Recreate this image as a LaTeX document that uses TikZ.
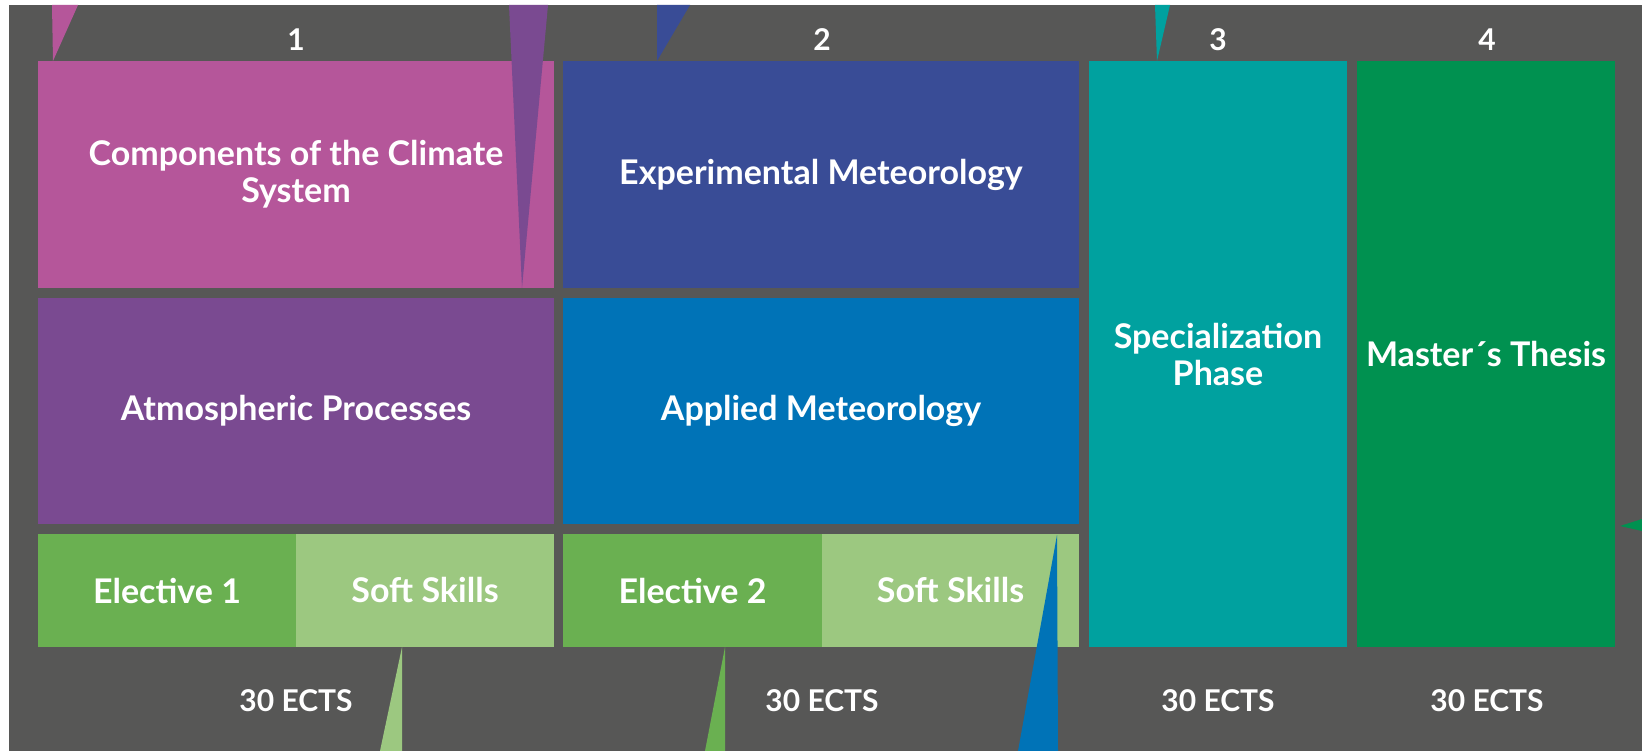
\documentclass[tikz,border=0pt]{standalone}
\usepackage{fontspec}
\setmainfont{Lato}
\definecolor{bgc}{HTML}{575756}
\definecolor{pinkc}{HTML}{B5569A}
\definecolor{purplec}{HTML}{7A4A91}
\definecolor{navyc}{HTML}{394C96}
\definecolor{bluec}{HTML}{0073B7}
\definecolor{greenc}{HTML}{6AB051}
\definecolor{lgreenc}{HTML}{9CC880}
\definecolor{tealc}{HTML}{00A19F}
\definecolor{mgreenc}{HTML}{009150}
\tikzset{
  box/.style={draw=none, inner sep=0pt, text=white, align=center,
    font=\fontsize{34}{37}\selectfont\bfseries},
  lbl/.style={inner sep=0pt, text=white, font=\fontsize{30}{34}\selectfont\bfseries}
}
\begin{document}
\begin{tikzpicture}[x=1pt,y=-1pt]
\useasboundingbox (0,0) rectangle (1642,751);
\fill[white] (0,0) rectangle (1642,751);
\fill[bgc] (9,5) rectangle (1642,751);
% top triangles (behind boxes)
\fill[pinkc] (52,5) -- (78,5) -- (53,61) -- cycle;
\fill[navyc] (657,5) -- (690,5) -- (657,61) -- cycle;
\fill[tealc] (1155,5) -- (1170,5) -- (1157,61) -- cycle;
% column 1
\node[box, fill=pinkc, minimum width=516pt, minimum height=227pt] (comp) at (296,174.5) {Components of the Climate\\System};
\node[box, fill=purplec, minimum width=516pt, minimum height=226pt] (atm) at (296,411) {Atmospheric Processes};
\node[box, fill=greenc, minimum width=258pt, minimum height=113pt] (el1) at (167,590.5) {Elective 1};
\node[box, fill=lgreenc, minimum width=258pt, minimum height=113pt] (ss1) at (425,590.5) {Soft Skills};
% column 2
\node[box, fill=navyc, minimum width=516pt, minimum height=227pt] (exp) at (821,174.5) {Experimental Meteorology};
\node[box, fill=bluec, minimum width=516pt, minimum height=226pt] (app) at (821,411) {Applied Meteorology};
\node[box, fill=greenc, minimum width=259pt, minimum height=113pt] (el2) at (692.5,590.5) {Elective 2};
\node[box, fill=lgreenc, minimum width=257pt, minimum height=113pt] (ss2) at (950.5,590.5) {Soft Skills};
% column 3 and 4
\node[box, fill=tealc, minimum width=258pt, minimum height=586pt] (spec) at (1218,354) {Specialization\\Phase};
\node[box, fill=mgreenc, minimum width=258pt, minimum height=586pt] (thesis) at (1486,354) {Master´s Thesis};
% overlay triangles
\fill[purplec] (509,5) -- (548,5) -- (522,288) -- cycle;
\fill[bluec] (1057,535) -- (1018,751) -- (1058,751) -- cycle;
\fill[lgreenc] (402,647) -- (380,751) -- (402,751) -- cycle;
\fill[greenc] (725,647) -- (705,751) -- (725,751) -- cycle;
\fill[mgreenc] (1620,526) -- (1642,519) -- (1642,531) -- cycle;
% semester numbers
\node[lbl] (s1) at (296,40) {1};
\node[lbl] (s2) at (822,40) {2};
\node[lbl] (s3) at (1218,40) {3};
\node[lbl] (s4) at (1487,40) {4};
% ECTS
\node[lbl] (e1) at (296,701) {30 ECTS};
\node[lbl] (e2) at (822,701) {30 ECTS};
\node[lbl] (e3) at (1218,701) {30 ECTS};
\node[lbl] (e4) at (1487,701) {30 ECTS};
\end{tikzpicture}
\end{document}
